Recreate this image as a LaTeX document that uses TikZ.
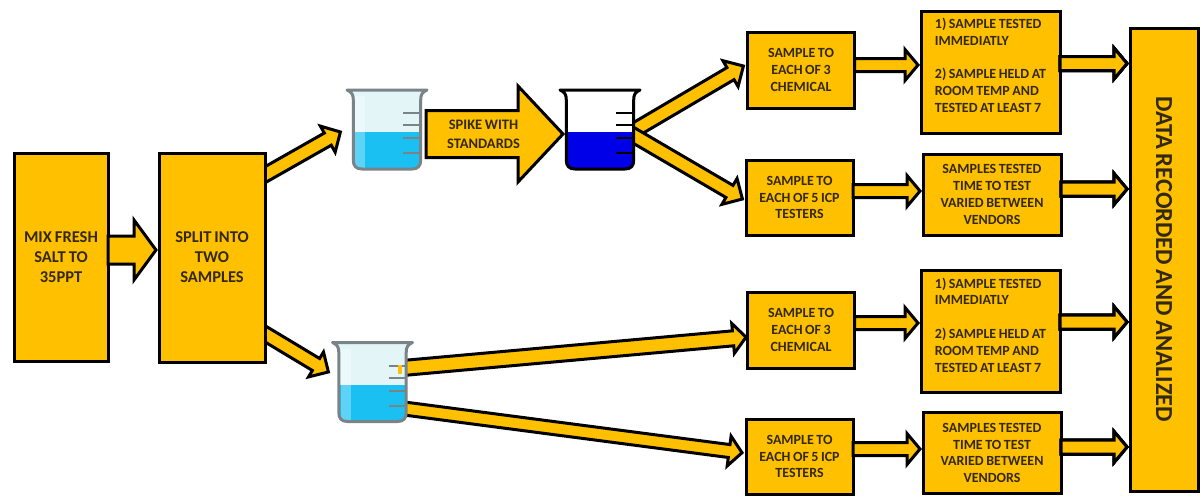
\documentclass[tikz,border=0pt]{standalone}
\usepackage{fontspec}
\setmainfont{Carlito}[WordSpace=0.8]
\usepackage{tikz}
\usetikzlibrary{calc}
\pgfdeclarelayer{behind}
\pgfsetlayers{behind,main}
\definecolor{amberfill}{HTML}{FFC000}
\definecolor{inktext}{HTML}{33290F}
\definecolor{glassgrey}{HTML}{7A8488}
\definecolor{glasslight}{HTML}{E4F5F8}
\definecolor{saltwater}{HTML}{1BC0F2}
\definecolor{spiked}{HTML}{0000E8}
\tikzset{
	stepbox/.style={draw=black,fill=amberfill,line width=3pt,inner sep=0pt,outer sep=0pt,
		text=inktext,font=\bfseries\fontsize{14}{16.8}\selectfont,align=center},
	bigbox/.style={stepbox,font=\bfseries\fontsize{16.5}{20}\selectfont},
	flow/.style={draw=black,fill=amberfill,line width=3pt,miter limit=10},
}
% block arrow: from, to, half shaft, half head, head length
\newcommand{\blockarrow}[5]{
	\coordinate (tip) at ($(#2)!3pt!(#1)$);
	\coordinate (base) at ($(tip)!#5pt!(#1)$);
	\draw[flow] ($(#1)!#3pt!90:(tip)$) -- ($(base)!#3pt!90:(tip)$) -- ($(base)!#4pt!90:(tip)$)
		-- (tip) -- ($(base)!#4pt!-90:(tip)$) -- ($(base)!#3pt!-90:(tip)$) -- ($(#1)!#3pt!-90:(tip)$) -- cycle;
}
% beaker: top left corner, outline, glass, liquid, shine opacity
\newcommand{\beaker}[5]{
	\begin{scope}[shift={(#1)}]
		\def\glasspath{(0,2) -- (80,2) .. controls (75,4) and (73.7,7) .. (73.7,12) -- (73.7,72)
			.. controls (73.7,78) and (71,81) .. (65,81) -- (15,81) .. controls (9,81) and (6.3,78) .. (6.3,72)
			-- (6.3,12) .. controls (6.3,7) and (5,4) .. (0,2) -- cycle}
		\fill[#3] \glasspath;
		\begin{scope}
			\clip \glasspath;
			\fill[#4] (0,44) rectangle (80,81);
			\fill[white,opacity=#5] (8,8) rectangle (18,81);
		\end{scope}
		\foreach \tick in {25,37,50,65}
			\draw[#2,line width=2pt] (56,\tick) -- (73,\tick);
		\draw[#2,line width=3pt,line join=round] \glasspath;
	\end{scope}
}
\begin{document}
\begin{tikzpicture}[x=1pt,y=-1pt]
	\useasboundingbox (0,0) rectangle (1200,498);
	% boxes
	\node[bigbox,minimum width=94pt,minimum height=208pt] (mix) at (61,257) {MIX FRESH\\SALT TO\\35PPT};
	\node[bigbox,minimum width=106pt,minimum height=209pt] (split) at (212,257.5) {SPLIT INTO\\TWO\\SAMPLES};
	\foreach \name/\y in {chemA/70,chemB/330}
		\node[stepbox,minimum width=107pt,minimum height=76pt] (\name) at (801,\y) {SAMPLE TO\\EACH OF 3\\CHEMICAL};
	\foreach \name/\y in {icpA/197.5,icpB/456.5}
		\node[stepbox,minimum width=107pt,minimum height=75pt] (\name) at (799.5,\y) {SAMPLE TO\\EACH OF 5 ICP\\TESTERS};
	\foreach \name/\y in {testA/72,testC/331.5}
		\node[stepbox,minimum width=139pt,minimum height=122pt,align=left] (\name) at (990.5,\y)
			{1) SAMPLE TESTED\\IMMEDIATLY\\[16.8pt]2) SAMPLE HELD AT\\ROOM TEMP AND\\TESTED AT LEAST 7\hspace*{13pt}\\[-3.6pt]~};
	\foreach \name/\y in {testB/194.5,testD/453}
		\node[stepbox,minimum width=138pt,minimum height=81pt] (\name) at (992,\y)
			{SAMPLES TESTED\\TIME TO TEST\\VARIED BETWEEN\\VENDORS};
	\node[stepbox,minimum width=68pt,minimum height=463pt,font=\bfseries\fontsize{24.5}{28}\selectfont] (data) at (1164,259.5)
		{\rotatebox{-90}{DATA RECORDED AND ANALIZED}};
	% beakers
	\coordinate (beakerA) at (347,88);
	\coordinate (beakerB) at (560,88);
	\coordinate (beakerC) at (332.5,340.5);
	% free ends
	\coordinate (splitUp) at (254,181);
	\coordinate (splitDown) at (254,327.2);
	\coordinate (toA) at (343,130.5);
	\coordinate (toC) at (331,373.5);
	\coordinate (mixOut) at (108,250);
	\coordinate (splitIn) at (159,250);
	\coordinate (spikeOut) at (426,134);
	\coordinate (spikeIn) at (566,134);
	\coordinate (forkA) at (627,134.5);
	\coordinate (forkB) at (627,131.5);
	\coordinate (chemAin) at (746,64.5);
	\coordinate (icpAin) at (745,200.5);
	\coordinate (forkC) at (395,368.7);
	\coordinate (forkD) at (395,407.3);
	\coordinate (chemBin) at (749,336.9);
	\coordinate (icpBin) at (745,453.1);
	\begin{pgfonlayer}{behind}
		\blockarrow{splitUp}{toA}{7}{15}{14.5}
		\blockarrow{splitDown}{toC}{7}{14.5}{14.5}
		\blockarrow{forkC}{chemBin}{7.5}{15}{13}
		\blockarrow{forkD}{icpBin}{6.5}{15}{13}
		\blockarrow{forkA}{chemAin}{7}{15}{15}
		\blockarrow{forkB}{icpAin}{7}{15}{15}
	\end{pgfonlayer}
	\blockarrow{mixOut}{splitIn}{14}{30}{22}
	\beaker{beakerA}{glassgrey}{glasslight}{saltwater}{0.3}
	\beaker{beakerC}{glassgrey}{glasslight}{saltwater}{0.3}
	\beaker{beakerB}{black}{white}{spiked}{0}
	\fill[amberfill] (398,365) rectangle (402,374);
	\blockarrow{spikeOut}{spikeIn}{23.5}{48}{45}
	% right hand rows
	\foreach \from/\to/\y in {chemA/testA/65,icpA/testB/191,chemB/testC/323,icpB/testD/449}
		\blockarrow{\from.east |- 0,\y}{\to.west |- 0,\y}{6.5}{15.5}{13}
	\foreach \from/\y in {testA/63.5,testB/189,testC/322,testD/447}
		\blockarrow{\from.east |- 0,\y}{data.west |- 0,\y}{7}{15.5}{13}
	% spike label sits on top of its arrow
	\node[stepbox,draw=none,inner sep=1pt,font=\bfseries\fontsize{14.5}{19}\selectfont] (spike) at (483.5,134.5) {SPIKE WITH\\STANDARDS};
\end{tikzpicture}
\end{document}
